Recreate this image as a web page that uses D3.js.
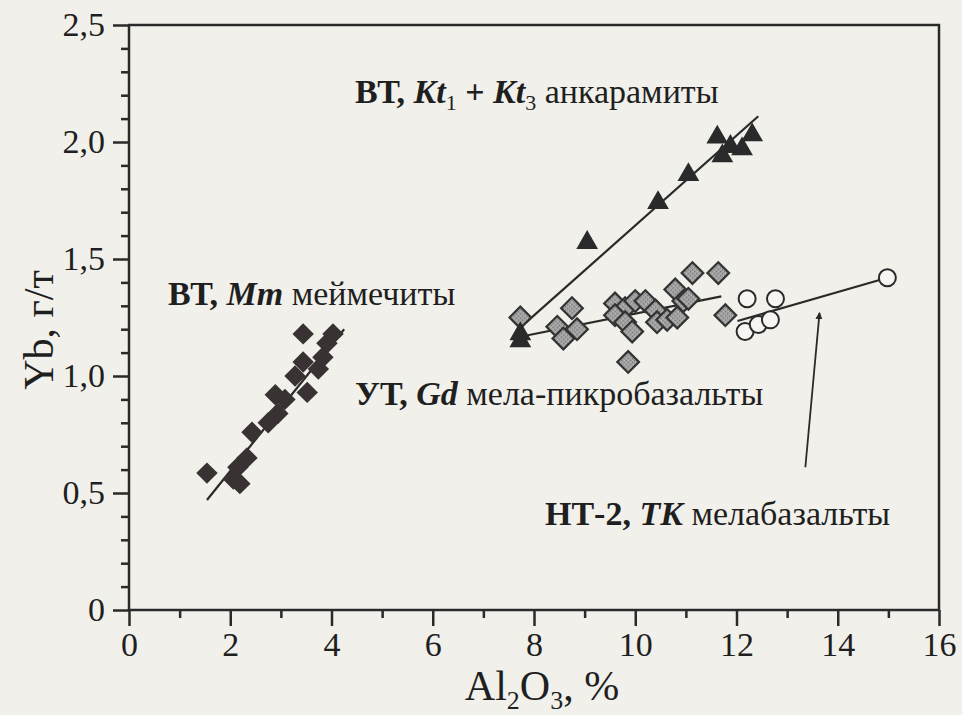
<!DOCTYPE html>
<html>
<head>
<meta charset="utf-8">
<script src="https://cdn.jsdelivr.net/npm/d3@7"></script>
<style>
  html, body { margin: 0; padding: 0; background: #f1f0eb; }
  svg { display: block; }
  text { font-family: "Liberation Serif", "Times New Roman", serif; fill: #1f1f1f; }
</style>
</head>
<body>
<svg id="chart" width="962" height="715"></svg>
<script>
// Al2O3 (%) vs Yb (g/t) for four rock groups

// ВТ, Mm — meimechites
const meiAl = [1.54, 2.06, 2.19, 2.15, 2.33, 2.43, 2.75, 2.94, 3.08, 2.89, 3.52, 3.28, 3.74, 3.44, 3.83, 3.91, 3.44, 4.03];
const meiYb = [0.585, 0.56, 0.54, 0.61, 0.65, 0.76, 0.80, 0.84, 0.90, 0.92, 0.93, 1.00, 1.03, 1.06, 1.08, 1.14, 1.18, 1.18];
const meiTrend = [[1.54, 0.47], [4.25, 1.20]];

// ВТ, Kt1 + Kt3 — ankaramites
const ankAl = [7.73, 7.73, 9.05, 10.45, 11.05, 11.72, 11.88, 12.11, 11.62, 12.31];
const ankYb = [1.15, 1.18, 1.57, 1.74, 1.86, 1.94, 1.98, 1.97, 2.02, 2.03];
const ankTrend = [[7.85, 1.23], [12.43, 2.11]];

// УТ, Gd — mela-picrobasalts
const gdAl = [7.73, 8.75, 8.46, 8.58, 8.85, 9.60, 9.80, 10.0, 10.2, 9.60, 9.80, 9.94, 9.86, 10.40, 10.43, 10.63, 10.83, 10.79, 10.95, 11.05, 11.13, 11.64, 11.78];
const gdYb = [1.25, 1.29, 1.21, 1.16, 1.20, 1.31, 1.29, 1.32, 1.32, 1.26, 1.23, 1.19, 1.06, 1.28, 1.23, 1.24, 1.25, 1.37, 1.32, 1.33, 1.44, 1.44, 1.26];
const gdTrend = [[7.78, 1.17], [11.7, 1.34]];

// НТ-2, TK — melabasalts
const tkAl = [12.21, 12.77, 12.17, 12.43, 12.67, 14.98];
const tkYb = [1.33, 1.33, 1.19, 1.22, 1.24, 1.42];
const tkTrend = [[12.02, 1.235], [14.98, 1.42]];

// pointer from the НТ-2 caption to its points
const tkArrow = [[13.36, 0.61], [13.64, 1.27]];

const xMajorTicks = [0, 2, 4, 6, 8, 10, 12, 14, 16];
const xMinorTicks = [1, 3, 5, 7, 9, 11, 13, 15];
const yMajorTicks = [0, 0.5, 1.0, 1.5, 2.0, 2.5];
const yMinorTicks = [0.1, 0.2, 0.3, 0.4, 0.6, 0.7, 0.8, 0.9, 1.1, 1.2, 1.3, 1.4, 1.6, 1.7, 1.8, 1.9, 2.1, 2.2, 2.3, 2.4];

const svg = d3.select("#chart");
const margin = { left: 129, right: 23, top: 25, bottom: 105 };
const W = 962, H = 715;

const x = d3.scaleLinear().domain([0, 16]).range([margin.left, W - margin.right]);
const y = d3.scaleLinear().domain([0, 2.5]).range([H - margin.bottom, margin.top]);

const ink = "#2a2a2a";

// texture for the grey diamonds
const defs = svg.append("defs");
const pat = defs.append("pattern").attr("id", "grain").attr("width", 3).attr("height", 3)
  .attr("patternUnits", "userSpaceOnUse");
pat.append("rect").attr("width", 3).attr("height", 3).attr("fill", "#a0a0a0");
pat.append("rect").attr("x", 0).attr("y", 0).attr("width", 1).attr("height", 1).attr("fill", "#6c6c6c");
pat.append("rect").attr("x", 2).attr("y", 1).attr("width", 1).attr("height", 1).attr("fill", "#c2c2c2");

// frame
svg.append("rect")
  .attr("x", x(0)).attr("y", y(2.5))
  .attr("width", x(16) - x(0)).attr("height", y(0) - y(2.5))
  .attr("fill", "none").attr("stroke", ink).attr("stroke-width", 2.5);

const fmtY = d => d === 0 ? "0" : d3.format(".1f")(d).replace(".", ",");

// axes
const gx = svg.append("g").attr("transform", `translate(0,${y(0)})`);
gx.call(d3.axisBottom(x).tickValues(xMajorTicks).tickSize(16).tickPadding(6).tickFormat(d3.format("d")));
const gxm = svg.append("g").attr("transform", `translate(0,${y(0)})`);
gxm.call(d3.axisBottom(x).tickValues(xMinorTicks).tickSize(8).tickFormat(""));

const gy = svg.append("g").attr("transform", `translate(${x(0)},0)`);
gy.call(d3.axisLeft(y).tickValues(yMajorTicks).tickSize(16).tickPadding(8).tickFormat(fmtY));
const gym = svg.append("g").attr("transform", `translate(${x(0)},0)`);
gym.call(d3.axisLeft(y).tickValues(yMinorTicks).tickSize(8).tickFormat(""));

svg.selectAll(".domain").remove();
svg.selectAll(".tick line").attr("stroke", ink).attr("stroke-width", 2.5);
svg.selectAll(".tick text").attr("font-size", 34).attr("fill", "#262626")
  .style("font-family", "'Liberation Serif', serif");
gx.selectAll(".tick text").attr("dy", "0.72em");

// axis titles
const xt = svg.append("text").attr("x", 542).attr("y", 700).attr("text-anchor", "middle")
  .attr("font-size", 42);
xt.append("tspan").text("Al");
xt.append("tspan").attr("dy", 9).attr("font-size", 26).text("2");
xt.append("tspan").attr("dy", -9).text("O");
xt.append("tspan").attr("dy", 9).attr("font-size", 26).text("3");
xt.append("tspan").attr("dy", -9).text(", %");

svg.append("text").attr("transform", "translate(53,330) rotate(-90)")
  .attr("text-anchor", "middle").attr("font-size", 42).text("Yb, г/т");

// trend lines
const line = d3.line().x(d => x(d[0])).y(d => y(d[1]));
[meiTrend, ankTrend, gdTrend, tkTrend].forEach(t => {
  svg.append("path").attr("d", line(t)).attr("fill", "none")
    .attr("stroke", ink).attr("stroke-width", 2.2);
});

// arrow
defs.append("marker").attr("id", "head").attr("viewBox", "0 0 10 10")
  .attr("refX", 9).attr("refY", 5).attr("markerWidth", 7).attr("markerHeight", 9)
  .attr("markerUnits", "userSpaceOnUse").attr("orient", "auto")
  .append("path").attr("d", "M0,0 L10,5 L0,10 Z").attr("fill", ink);
svg.append("path").attr("d", line(tkArrow)).attr("stroke", ink).attr("stroke-width", 1.8)
  .attr("fill", "none").attr("marker-end", "url(#head)");

// markers
const diamond = d3.symbol().type(d3.symbolSquare);
const zip = (a, b) => a.map((v, i) => [v, b[i]]);

svg.append("g").selectAll("path").data(zip(gdAl, gdYb)).join("path")
  .attr("d", diamond.size(235)())
  .attr("transform", d => `translate(${x(d[0])},${y(d[1])}) rotate(45)`)
  .attr("fill", "url(#grain)").attr("stroke", "#333").attr("stroke-width", 2.2);

svg.append("g").selectAll("path").data(zip(meiAl, meiYb)).join("path")
  .attr("d", diamond.size(230)())
  .attr("transform", d => `translate(${x(d[0])},${y(d[1])}) rotate(45)`)
  .attr("fill", "#383232");

svg.append("g").selectAll("path").data(zip(ankAl, ankYb)).join("path")
  .attr("d", d3.symbol().type(d3.symbolTriangle).size(205)())
  .attr("transform", d => `translate(${x(d[0])},${y(d[1])})`)
  .attr("fill", "#2a2a2a");

svg.append("g").selectAll("circle").data(zip(tkAl, tkYb)).join("circle")
  .attr("cx", d => x(d[0])).attr("cy", d => y(d[1])).attr("r", 8.5)
  .attr("fill", "#f6f5f1").attr("stroke", ink).attr("stroke-width", 2);

// group captions
function caption(px, py, parts) {
  const t = svg.append("text").attr("x", px).attr("y", py).attr("font-size", 34);
  parts.forEach(p => {
    const s = t.append("tspan").text(p.t);
    if (p.b) s.attr("font-weight", "bold");
    if (p.i) s.attr("font-style", "italic");
    if (p.sub) s.attr("font-size", 22).attr("dy", 7);
    if (p.up) s.attr("dy", -7);
  });
}
caption(355, 103, [
  { t: "ВТ, ", b: 1 }, { t: "Kt", b: 1, i: 1 }, { t: "1", sub: 1 },
  { t: " + ", b: 1, up: 1 }, { t: "Kt", b: 1, i: 1 }, { t: "3", sub: 1 },
  { t: " анкарамиты", up: 1 }
]);
caption(168, 305, [{ t: "ВТ, ", b: 1 }, { t: "Mm", b: 1, i: 1 }, { t: " меймечиты" }]);
caption(355, 405, [{ t: "УТ, ", b: 1 }, { t: "Gd", b: 1, i: 1 }, { t: " мела-пикробазальты" }]);
caption(545, 525, [{ t: "НТ-2, ", b: 1 }, { t: "TK", b: 1, i: 1 }, { t: " мелабазальты" }]);
</script>
</body>
</html>
